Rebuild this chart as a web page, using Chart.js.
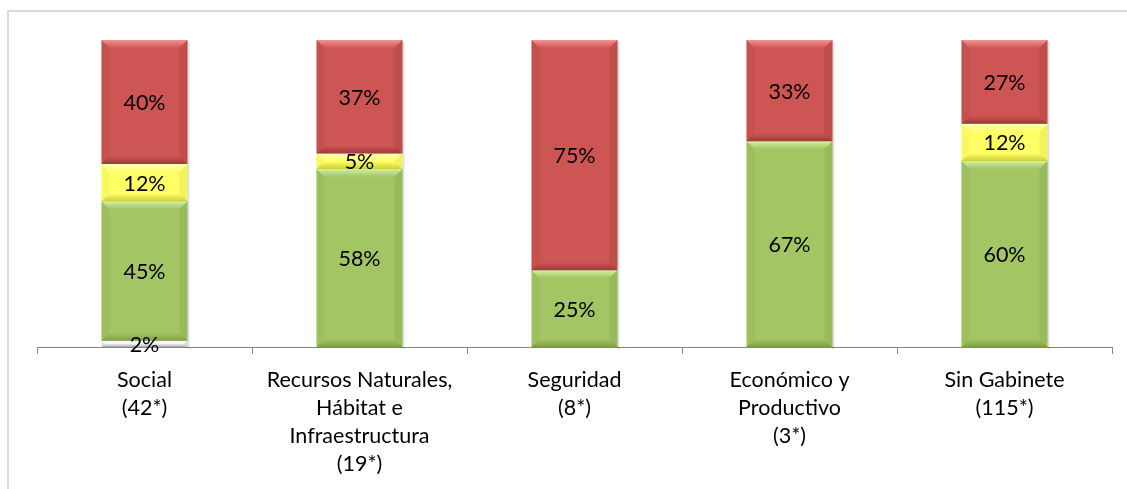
<!DOCTYPE html>
<html>
<head>
<meta charset="utf-8">
<script src="https://cdn.jsdelivr.net/npm/chart.js@4"></script>
<style>
  html, body { margin: 0; padding: 0; background: #fff; }
  #wrap { width: 1127px; height: 489px; position: relative; }
</style>
</head>
<body>
<div id="wrap"><canvas id="chart" width="1127" height="489"></canvas></div>
<script>
// Datos
const categories = [
    ["Social", "(42*)"],
    ["Recursos Naturales,", "Hábitat e", "Infraestructura", "(19*)"],
    ["Seguridad", "(8*)"],
    ["Económico y", "Productivo", "(3*)"],
    ["Sin Gabinete", "(115*)"]
];
const grayValues = [2, 0, 0, 0, 0];
const greenValues = [45, 58, 25, 67, 60];
const yellowValues = [12, 5, 0, 0, 12];
const redValues = [40, 37, 75, 33, 27];

const FONT = "Lato, 'Open Sans', sans-serif";

// 100% apilado: normalizar cada columna
const totals = categories.map((c, i) => grayValues[i] + greenValues[i] + yellowValues[i] + redValues[i]);
const norm = (arr) => arr.map((v, i) => v / totals[i] * 100);

const palette = {
    gray:   { fill: "#F2F2F2", light: "#FFFFFF", dark: "#A6A6A6" },
    green:  { fill: "#A3C563", light: "#D4F0A0", dark: "#7E9E45" },
    yellow: { fill: "#FFFF66", light: "#FFFFB8", dark: "#CFCF3E" },
    red:    { fill: "#CD5553", light: "#F39491", dark: "#9C3A38" }
};

function makeSet(label, raw, key) {
    return {
        label: label,
        data: norm(raw),
        raw: raw,
        pal: palette[key],
        backgroundColor: palette[key].fill,
        borderWidth: 0,
        categoryPercentage: 1,
        barPercentage: 0.4
    };
}

// Marco exterior del grafico
const framePlugin = {
    id: "frame",
    beforeDraw(chart) {
        const ctx = chart.ctx;
        ctx.save();
        ctx.strokeStyle = "#D9D9D9";
        ctx.lineWidth = 2;
        ctx.beginPath();
        ctx.moveTo(8, 489);
        ctx.lineTo(8, 11);
        ctx.lineTo(1127, 11);
        ctx.stroke();
        ctx.restore();
    }
};

// Efecto biselado de las barras
const bevelPlugin = {
    id: "bevel",
    afterDatasetsDraw(chart) {
        const ctx = chart.ctx;
        ctx.save();
        chart.data.datasets.forEach((ds, di) => {
            const meta = chart.getDatasetMeta(di);
            meta.data.forEach((bar, i) => {
                if (!ds.raw[i]) return;
                const p = bar.getProps(["x", "y", "base", "width"], true);
                const x0 = p.x - p.width / 2, x1 = p.x + p.width / 2;
                const y0 = Math.min(p.y, p.base), y1 = Math.max(p.y, p.base);
                const h = y1 - y0;
                const b = Math.min(8, h / 2);
                // arriba claro
                let g = ctx.createLinearGradient(0, y0, 0, y0 + b);
                g.addColorStop(0, ds.pal.light);
                g.addColorStop(1, ds.pal.fill);
                ctx.fillStyle = g;
                ctx.beginPath();
                ctx.moveTo(x0, y0); ctx.lineTo(x1, y0);
                ctx.lineTo(x1 - b, y0 + b); ctx.lineTo(x0 + b, y0 + b);
                ctx.closePath(); ctx.fill();
                // abajo oscuro
                g = ctx.createLinearGradient(0, y1 - b, 0, y1);
                g.addColorStop(0, ds.pal.fill);
                g.addColorStop(1, ds.pal.dark);
                ctx.fillStyle = g;
                ctx.beginPath();
                ctx.moveTo(x0, y1); ctx.lineTo(x1, y1);
                ctx.lineTo(x1 - b, y1 - b); ctx.lineTo(x0 + b, y1 - b);
                ctx.closePath(); ctx.fill();
                // lados
                ctx.globalAlpha = 0.28;
                ctx.fillStyle = ds.pal.dark;
                ctx.beginPath();
                ctx.moveTo(x1, y0); ctx.lineTo(x1, y1);
                ctx.lineTo(x1 - b, y1 - b); ctx.lineTo(x1 - b, y0 + b);
                ctx.closePath(); ctx.fill();
                ctx.globalAlpha = 0.15;
                ctx.beginPath();
                ctx.moveTo(x0, y0); ctx.lineTo(x0, y1);
                ctx.lineTo(x0 + b, y1 - b); ctx.lineTo(x0 + b, y0 + b);
                ctx.closePath(); ctx.fill();
                ctx.globalAlpha = 1;
                // sombra a la derecha
                ctx.fillStyle = "rgba(0,0,0,0.12)";
                ctx.fillRect(x1, y0 + 2, 2, h);
            });
        });
        ctx.restore();
    }
};

// Etiquetas de porcentaje
const labelPlugin = {
    id: "pctLabels",
    afterDraw(chart) {
        const ctx = chart.ctx;
        ctx.save();
        ctx.font = "21.5px " + FONT;
        ctx.fillStyle = "#000";
        ctx.textAlign = "center";
        ctx.textBaseline = "middle";
        chart.data.datasets.forEach((ds, di) => {
            const meta = chart.getDatasetMeta(di);
            meta.data.forEach((bar, i) => {
                if (!ds.raw[i]) return;
                const p = bar.getProps(["x", "y", "base"], true);
                ctx.fillText(ds.raw[i] + "%", p.x, (p.y + p.base) / 2 + 1);
            });
        });
        ctx.restore();
    }
};

new Chart(document.getElementById("chart"), {
    type: "bar",
    data: {
        labels: categories,
        datasets: [
            makeSet("Gris", grayValues, "gray"),
            makeSet("Verde", greenValues, "green"),
            makeSet("Amarillo", yellowValues, "yellow"),
            makeSet("Rojo", redValues, "red")
        ]
    },
    options: {
        responsive: false,
        animation: false,
        layout: { padding: { left: 37, right: 15, top: 40, bottom: 0 } },
        plugins: {
            legend: { display: false },
            tooltip: { enabled: false }
        },
        scales: {
            x: {
                stacked: true,
                offset: true,
                grid: {
                    offset: true,
                    drawOnChartArea: false,
                    drawTicks: true,
                    tickLength: 7,
                    color: "#868686"
                },
                border: { display: true, color: "#868686", width: 1 },
                ticks: {
                    color: "#000",
                    padding: 12,
                    maxRotation: 0,
                    autoSkip: false,
                    font: { family: FONT, size: 21.5, lineHeight: 1.3 }
                },
                afterFit(scale) { scale.height = 142; }
            },
            y: {
                stacked: true,
                display: false,
                min: 0,
                max: 100
            }
        }
    },
    plugins: [framePlugin, bevelPlugin, labelPlugin]
});
</script>
</body>
</html>
